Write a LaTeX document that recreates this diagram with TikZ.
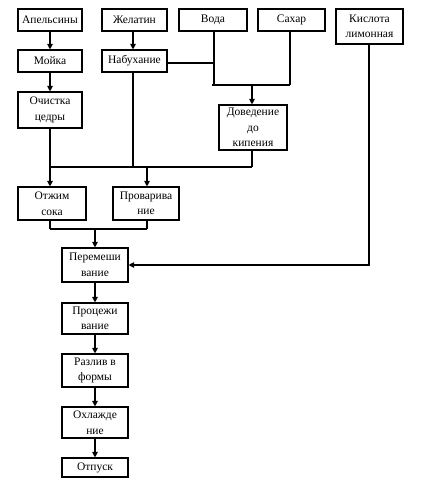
\documentclass[tikz,border=0pt]{standalone}
\usepackage{fontspec}
\setmainfont{Liberation Serif}
\usetikzlibrary{arrows.meta}
\begin{document}
\begin{tikzpicture}[x=1pt,y=-1pt,
  box/.style={draw,line width=1.1pt,rectangle,inner sep=0pt,align=center,
    font=\fontsize{11.5}{15.5}\selectfont},
  ln/.style={line width=1.1pt},
  arr/.style={line width=1.1pt,-{Triangle[length=5.5pt,width=5.5pt]}}]
\useasboundingbox (0,0) rectangle (420,484);
\fill[white] (0,0) rectangle (420,484);
% row 1
\node[box,minimum width=64pt,minimum height=22pt] (ap) at (50,20) {Апельсины};
\node[box,minimum width=65pt,minimum height=22pt] (zh) at (134.5,20) {Желатин};
\node[box,minimum width=68pt,minimum height=22pt] (voda) at (213,20) {Вода};
\node[box,minimum width=67pt,minimum height=22pt] (sah) at (291.5,20) {Сахар};
\node[box,minimum width=67pt,minimum height=35pt] (kis) at (369.5,26.5) {Кислота\\лимонная};
% row 2
\node[box,minimum width=64pt,minimum height=22pt] (moy) at (50,61) {Мойка};
\node[box,minimum width=65pt,minimum height=22pt] (nab) at (134.5,61) {Набухание};
\node[box,minimum width=64pt,minimum height=36pt] (och) at (50,110) {Очистка\\цедры};
\node[box,minimum width=68pt,minimum height=45pt] (dov) at (253,127.5) {Доведение\\до\\кипения};
\node[box,minimum width=68pt,minimum height=33pt] (otzh) at (52,203.5) {Отжим\\сока};
\node[box,minimum width=66pt,minimum height=33pt] (prov) at (146,203.5) {Проварива\\ние};
\node[box,minimum width=66pt,minimum height=34pt] (per) at (95,265) {Перемеши\\вание};
\node[box,minimum width=66pt,minimum height=31pt] (proc) at (95,318.5) {Процежи\\вание};
\node[box,minimum width=66pt,minimum height=33pt] (razl) at (95,370.5) {Разлив в\\формы};
\node[box,minimum width=66pt,minimum height=31pt] (ohl) at (95,422.5) {Охлажде\\ние};
\node[box,minimum width=66pt,minimum height=19pt] (otp) at (95,467.5) {Отпуск};
% junctions
\coordinate (jv) at (214,63);
\coordinate (jvb) at (214,85);
\coordinate (jsb) at (290,85);
\coordinate (jl) at (212,85);
\coordinate (jd) at (252,85);
\coordinate (ja) at (50,167);
\coordinate (jb) at (133,167);
\coordinate (jc) at (252,167);
\coordinate (jp) at (147,167);
\coordinate (ka) at (50,229);
\coordinate (kb) at (147,229);
\coordinate (kc) at (95,229);
\coordinate (kk) at (369,265);
% connectors
\draw[arr] (ap) -- (moy);
\draw[arr] (moy) -- (och);
\draw[arr] (zh.south -| 133,0) -- (nab.north -| 133,0);
\draw[ln] (nab.east |- jv) -- (jv);
\draw[ln] (voda.south -| jv) -- (jvb);
\draw[ln] (sah.south -| jsb) -- (jsb);
\draw[ln] (jl) -- (jsb);
\draw[arr] (jd) -- (dov.north -| jd);
\draw[ln] (och.south) -- (ja);
\draw[ln] (nab.south -| jb) -- (jb);
\draw[ln] (dov.south -| jc) -- (jc);
\draw[ln] (ja) -- (jc);
\draw[arr] (ja) -- (otzh.north -| ja);
\draw[arr] (jp) -- (prov.north -| jp);
\draw[ln] (otzh.south -| ka) -- (ka);
\draw[ln] (prov.south -| kb) -- (kb);
\draw[ln] (ka) -- (kb);
\draw[arr] (kc) -- (per.north);
\draw[arr] (kis.south -| kk) -- (kk) -- (per.east |- kk);
\draw[arr] (per) -- (proc);
\draw[arr] (proc) -- (razl);
\draw[arr] (razl) -- (ohl);
\draw[arr] (ohl) -- (otp);
\end{tikzpicture}
\end{document}
